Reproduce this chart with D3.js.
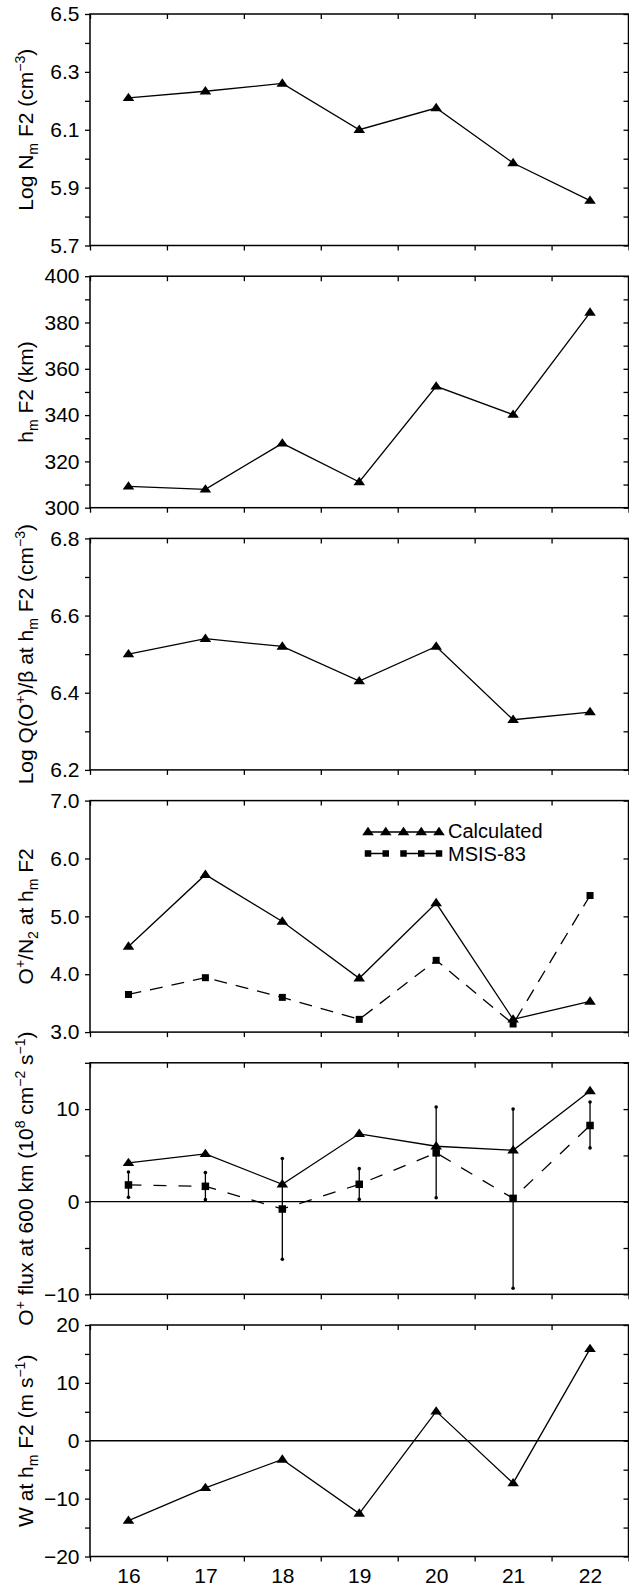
<!DOCTYPE html>
<html>
<head>
<meta charset="utf-8">
<script src="https://cdn.jsdelivr.net/npm/d3@7"></script>
<style>
  html, body { margin: 0; padding: 0; background: #fff; }
  svg { display: block; }
  text { font-family: "Liberation Sans", Arial, Helvetica, sans-serif; fill: #000; }
</style>
</head>
<body>
<svg id="chart" width="629" height="1586"></svg>
<script>
// ---- data ----
const days = [16, 17, 18, 19, 20, 21, 22];

const logNmF2 = [6.21, 6.233, 6.26, 6.10, 6.175, 5.985, 5.855];
const hmF2 = [309.2, 307.9, 327.8, 311.1, 352.4, 340.2, 384.3];
const logQBeta = [6.50, 6.54, 6.52, 6.43, 6.52, 6.33, 6.35];

const ratioCalculated = [4.48, 5.72, 4.91, 3.93, 5.23, 3.22, 3.53];
const ratioMSIS = [3.65, 3.94, 3.60, 3.22, 4.24, 3.14, 5.36];

const fluxCalculated = [4.19, 5.16, 1.88, 7.33, 5.99, 5.56, 11.95];
const fluxMSIS = [1.81, 1.66, -0.79, 1.88, 5.27, 0.36, 8.23];
const fluxErrLow = [0.47, 0.22, -6.21, 0.25, 0.43, -9.35, 5.81];
const fluxErrHigh = [3.21, 3.14, 4.66, 3.57, 10.22, 10.0, 10.76];

const windW = [-13.8, -8.14, -3.23, -12.58, 5.08, -7.33, 15.87];

const legendLabels = ["Calculated", "MSIS-83"];

// tick definitions
const ticks1 = { domain: [5.7, 6.5], major: [5.7, 5.9, 6.1, 6.3, 6.5], minor: [5.8, 6.0, 6.2, 6.4], fmt: ".1f" };
const ticks2 = { domain: [300, 400], major: [300, 320, 340, 360, 380, 400], minor: [310, 330, 350, 370, 390], fmt: "d" };
const ticks3 = { domain: [6.2, 6.8], major: [6.2, 6.4, 6.6, 6.8], minor: [6.3, 6.5, 6.7], fmt: ".1f" };
const ticks4 = { domain: [3.0, 7.0], major: [3.0, 4.0, 5.0, 6.0, 7.0], minor: [], fmt: ".1f" };
const ticks5 = { domain: [-10, 15], major: [-10, 0, 10], minor: [-5, 5, 15], fmt: "d" };
const ticks6 = { domain: [-20, 20], major: [-20, -10, 0, 10, 20], minor: [-15, -5, 5, 15], fmt: "d" };

// y-axis labels as runs: [text, kind] kind: n normal, sup, sub
const label1 = [["Log N", "n"], ["m", "sub"], [" F2 (cm", "n"], ["\u22123", "sup"], [")", "n"]];
const label2 = [["h", "n"], ["m", "sub"], [" F2 (km)", "n"]];
const label3 = [["Log Q(O", "n"], ["+", "sup"], [")/\u03B2 at h", "n"], ["m", "sub"], [" F2 (cm", "n"], ["\u22123", "sup"], [")", "n"]];
const label4 = [["O", "n"], ["+", "sup"], ["/N", "n"], ["2", "sub"], [" at h", "n"], ["m", "sub"], [" F2", "n"]];
const label5 = [["O", "n"], ["+", "sup"], [" flux at 600 km (10", "n"], ["8", "sup"], [" cm", "n"], ["\u22122", "sup"], [" s", "n"], ["\u22121", "sup"], [")", "n"]];
const label6 = [["W at h", "n"], ["m", "sub"], [" F2 (m s", "n"], ["\u22121", "sup"], [")", "n"]];

// ---- layout ----
const svg = d3.select("#chart");
const W = 629, H = 1586;
svg.append("rect").attr("width", W).attr("height", H).attr("fill", "#fff");

const left = 90, right = 628.5;
const panelTop0 = 14, panelStep = 262.2, panelH = 231.5;
const tickLen = 5;
const tickFont = 21, labelFont = 21;

const x = d3.scaleLinear().domain([15.5, 22.5]).range([left, right]);
const xTickVals = d3.range(15.5, 22.51, 1);

const panels = [
  { ticks: ticks1, label: label1, series: [{ values: logNmF2, marker: "tri", dash: null }] },
  { ticks: ticks2, label: label2, series: [{ values: hmF2, marker: "tri", dash: null }] },
  { ticks: ticks3, label: label3, series: [{ values: logQBeta, marker: "tri", dash: null }] },
  { ticks: ticks4, label: label4, legend: true,
    series: [{ values: ratioMSIS, marker: "sq", dash: "13,9", sq: 7 },
             { values: ratioCalculated, marker: "tri", dash: null }] },
  { ticks: ticks5, label: label5, zero: true,
    errLow: fluxErrLow, errHigh: fluxErrHigh,
    series: [{ values: fluxMSIS, marker: "sq", dash: "13,12", sq: 7.5 },
             { values: fluxCalculated, marker: "tri", dash: null }] },
  { ticks: ticks6, label: label6, zero: true, xLabels: true,
    series: [{ values: windW, marker: "tri", dash: null }] }
];

function triPath(cx, cy) {
  return `M${cx},${cy - 5.2}L${cx + 5.8},${cy + 3.2}L${cx - 5.8},${cy + 3.2}Z`;
}

function drawMarker(g, kind, cx, cy, sq) {
  if (kind === "tri") {
    g.append("path").attr("d", triPath(cx, cy)).attr("fill", "#000");
  } else {
    const s = sq || 7;
    g.append("rect").attr("x", cx - s / 2).attr("y", cy - s / 2)
      .attr("width", s).attr("height", s).attr("fill", "#000");
  }
}

function styleAxis(sel) {
  sel.select(".domain").remove();
  sel.selectAll(".tick line").attr("stroke", "#000").attr("stroke-width", 1.3);
  sel.selectAll(".tick text").attr("font-size", tickFont)
    .attr("font-family", '"Liberation Sans", Arial, Helvetica, sans-serif').attr("fill", "#000");
}

panels.forEach((p, i) => {
  const top = panelTop0 + i * panelStep;
  const bottom = top + panelH;
  const y = d3.scaleLinear().domain(p.ticks.domain).range([bottom, top]);
  const g = svg.append("g");
  const allTicks = p.ticks.major.concat(p.ticks.minor);
  const fmt = d3.format(p.ticks.fmt);
  const isMajor = v => p.ticks.major.some(m => Math.abs(m - v) < 1e-9);

  // left axis (outward ticks, labels)
  g.append("g").attr("transform", `translate(${left},0)`)
    .call(d3.axisLeft(y).tickValues(allTicks).tickSize(tickLen).tickPadding(5.5)
      .tickFormat(v => isMajor(v) ? fmt(v) : ""))
    .call(styleAxis);
  // right axis (inward ticks)
  g.append("g").attr("transform", `translate(${right},0)`)
    .call(d3.axisLeft(y).tickValues(allTicks).tickSize(tickLen).tickFormat(""))
    .call(styleAxis);
  // top axis (inward ticks)
  g.append("g").attr("transform", `translate(0,${top})`)
    .call(d3.axisBottom(x).tickValues(xTickVals).tickSize(tickLen).tickFormat(""))
    .call(styleAxis);
  // bottom axis (outward ticks)
  g.append("g").attr("transform", `translate(0,${bottom})`)
    .call(d3.axisBottom(x).tickValues(xTickVals).tickSize(tickLen).tickFormat(""))
    .call(styleAxis);

  if (p.xLabels) {
    g.append("g").attr("transform", `translate(0,${bottom})`)
      .call(d3.axisBottom(x).tickValues(days).tickSize(0).tickPadding(11.3).tickFormat(d3.format("d")))
      .call(styleAxis);
  }

  // frame
  g.append("rect").attr("x", left).attr("y", top)
    .attr("width", right - left).attr("height", panelH)
    .attr("fill", "none").attr("stroke", "#000").attr("stroke-width", 1.5);

  if (p.zero) {
    g.append("line").attr("x1", left).attr("x2", right)
      .attr("y1", y(0)).attr("y2", y(0))
      .attr("stroke", "#000").attr("stroke-width", 1.3);
  }

  // error bars
  if (p.errLow) {
    days.forEach((d, k) => {
      const cx = x(d);
      g.append("line").attr("x1", cx).attr("x2", cx)
        .attr("y1", y(p.errLow[k])).attr("y2", y(p.errHigh[k]))
        .attr("stroke", "#000").attr("stroke-width", 1.3);
      [p.errLow[k], p.errHigh[k]].forEach(v => {
        g.append("circle").attr("cx", cx).attr("cy", y(v)).attr("r", 1.8).attr("fill", "#000");
      });
    });
  }

  // series
  p.series.forEach(s => {
    const line = d3.line().x((v, k) => x(days[k])).y(v => y(v));
    g.append("path").attr("d", line(s.values))
      .attr("fill", "none").attr("stroke", "#000").attr("stroke-width", 1.3)
      .attr("stroke-dasharray", s.dash);
    s.values.forEach((v, k) => drawMarker(g, s.marker, x(days[k]), y(v), s.sq));
  });

  // legend
  if (p.legend) {
    const lx0 = 368, lx1 = 439;
    const rows = [
      { yy: 832, marker: "tri", dash: null, text: legendLabels[0], ty: 837.5 },
      { yy: 853.5, marker: "sq", dash: "18,17.5,40", text: legendLabels[1], ty: 860.8 }
    ];
    rows.forEach(r => {
      g.append("line").attr("x1", lx0).attr("x2", lx1).attr("y1", r.yy).attr("y2", r.yy)
        .attr("stroke", "#000").attr("stroke-width", 1.3).attr("stroke-dasharray", r.dash);
      d3.range(5).forEach(k => drawMarker(g, r.marker, lx0 + k * (lx1 - lx0) / 4, r.yy, 6.5));
      g.append("text").attr("x", 448).attr("y", r.ty).attr("font-size", 20).text(r.text);
    });
  }

  // y label
  const cy = (top + bottom) / 2;
  const t = svg.append("text")
    .attr("transform", `translate(25,${cy}) rotate(-90)`)
    .attr("text-anchor", "middle")
    .attr("dy", "0.36em")
    .attr("font-size", labelFont);
  let shift = 0;
  p.label.forEach(([txt, kind]) => {
    let target = 0, fs = labelFont;
    if (kind === "sup") { target = -8; fs = 14; }
    if (kind === "sub") { target = 5; fs = 14; }
    const ts = t.append("tspan").attr("font-size", fs).text(txt);
    const dy = target - shift;
    if (dy !== 0) ts.attr("dy", dy);
    shift = target;
  });
});
</script>
</body>
</html>
